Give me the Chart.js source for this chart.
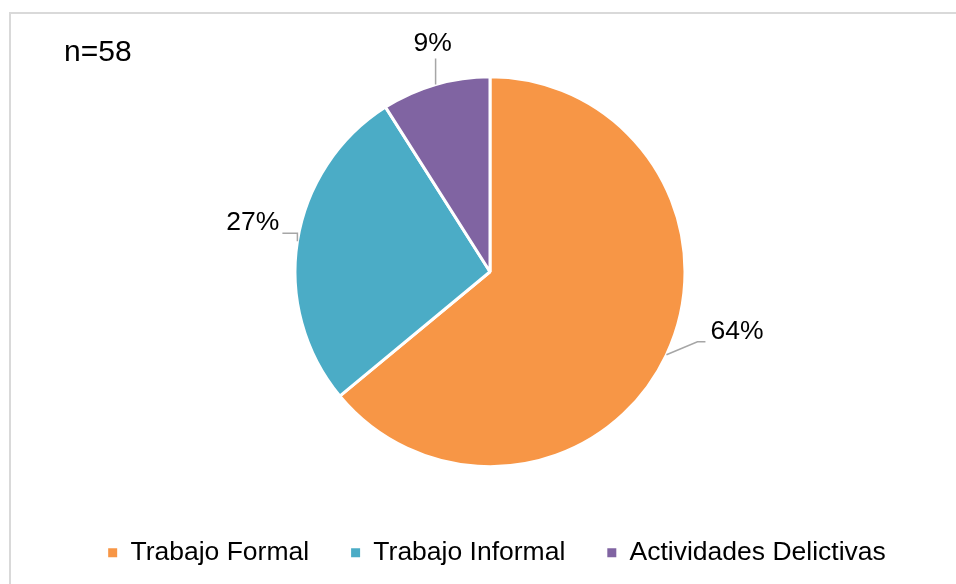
<!DOCTYPE html>
<html lang="es">
<head>
  <meta charset="UTF-8" />
  <title>Ocupación</title>
  <script src="https://cdn.jsdelivr.net/npm/chart.js"></script>
  <style>
    html, body {
      margin: 0;
      padding: 0;
      background: #fff;
      overflow: hidden;
    }
    .frame {
      position: absolute;
      left: 9px;
      top: 12px;
      width: 980px;
      height: 620px;
      border: 2px solid #d9d9d9;
      box-sizing: border-box;
    }
    .wrap {
      position: absolute;
      left: 0;
      top: 0;
      width: 956px;
      height: 584px;
    }
  </style>
</head>
<body>
  <div class="frame"></div>
  <div class="wrap"><canvas id="pie"></canvas></div>
  <script>
    const categories = ["Trabajo Formal", "Trabajo Informal", "Actividades Delictivas"];
    const percents = [64, 27, 9];
    const colors = ["#F79646", "#4BACC6", "#8064A2"];
    const sampleText = "n=58";

    // label offsets from the outer edge of each slice: elbow, end of leader, text side
    const leaders = [
      { elbow: [31, -13], end: [39, -13], align: "left" },
      { elbow: [0, -8], end: [-15, -8], align: "right" },
      { elbow: [0, -26], end: [0, -26], align: "center" }
    ];

    const leaderLabels = {
      id: "leaderLabels",
      afterLayout(chart) {
        // nudge the legend row a little to the right of the pie centre
        chart.legend.left += 7;
        chart.legend.right += 7;
      },
      afterDatasetsDraw(chart) {
        const ctx = chart.ctx;
        const meta = chart.getDatasetMeta(0);
        ctx.save();
        meta.data.forEach((arc, i) => {
          const mid = (arc.startAngle + arc.endAngle) / 2;
          const ex = arc.x + Math.cos(mid) * arc.outerRadius;
          const ey = arc.y + Math.sin(mid) * arc.outerRadius;
          const l = leaders[i];
          const bx = ex + l.elbow[0], by = ey + l.elbow[1];
          const cx = ex + l.end[0], cy = ey + l.end[1];
          ctx.strokeStyle = "#a6a6a6";
          ctx.lineWidth = 1.5;
          ctx.beginPath();
          ctx.moveTo(ex, ey);
          ctx.lineTo(bx, by);
          ctx.lineTo(cx, cy);
          ctx.stroke();
          ctx.fillStyle = "#000";
          ctx.font = "26.5px 'Liberation Sans', Arial, sans-serif";
          ctx.textBaseline = "bottom";
          ctx.textAlign = l.align;
          let tx = cx, ty = cy + 3;
          if (l.align === "left") tx = cx + 5;
          if (l.align === "right") tx = cx - 3;
          if (l.align === "center") { tx = cx - 3; ty = cy - 2; }
          ctx.fillText(percents[i] + "%", tx, ty);
        });
        ctx.font = "30px 'Liberation Sans', Arial, sans-serif";
        ctx.textAlign = "left";
        ctx.textBaseline = "alphabetic";
        ctx.fillText(sampleText, 64, 61);
        ctx.restore();
      }
    };

    new Chart(document.getElementById("pie"), {
      type: "pie",
      data: {
        labels: categories,
        datasets: [{
          data: percents,
          backgroundColor: colors,
          borderColor: "#fff",
          borderWidth: 3,
          radius: 195
        }]
      },
      options: {
        responsive: true,
        maintainAspectRatio: false,
        animation: false,
        layout: { padding: { left: 24, right: 0, top: 46, bottom: 8 } },
        plugins: {
          tooltip: { enabled: false },
          legend: {
            position: "bottom",
            labels: {
              boxWidth: 9,
              boxHeight: 9,
              padding: 42,
              color: "#000",
              font: { family: "'Liberation Sans', Arial, sans-serif", size: 26.5 },
              generateLabels(chart) {
                const items = Chart.overrides.pie.plugins.legend.labels.generateLabels(chart);
                items.forEach(it => { it.lineWidth = 0; it.strokeStyle = it.fillStyle; });
                return items;
              }
            }
          }
        }
      },
      plugins: [leaderLabels]
    });
  </script>
</body>
</html>
